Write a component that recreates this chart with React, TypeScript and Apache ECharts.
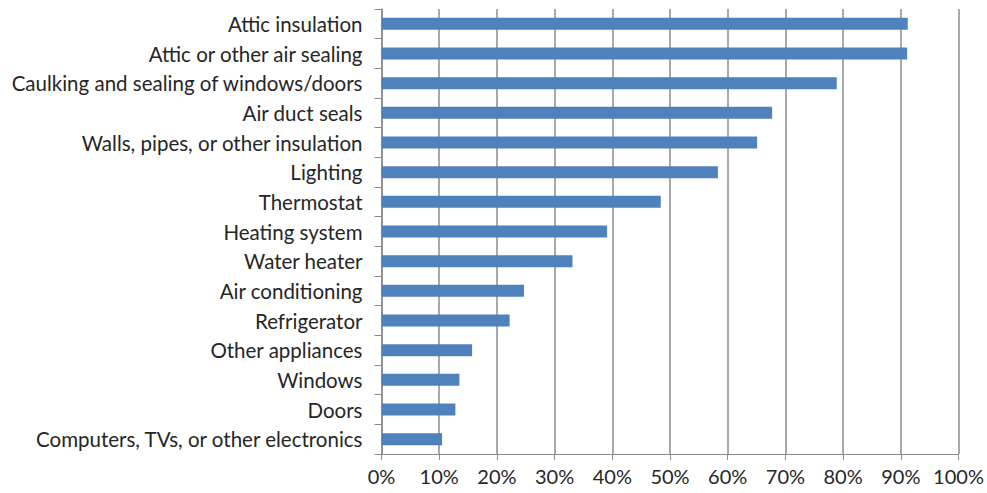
import React, { useEffect, useRef } from "react";
import * as echarts from "echarts";

const categories = [
  "Attic insulation",
  "Attic or other air sealing",
  "Caulking and sealing of windows/doors",
  "Air duct seals",
  "Walls, pipes, or other insulation",
  "Lighting",
  "Thermostat",
  "Heating system",
  "Water heater",
  "Air conditioning",
  "Refrigerator",
  "Other appliances",
  "Windows",
  "Doors",
  "Computers, TVs, or other electronics",
];

const values = [91.2, 91.1, 78.9, 67.7, 65.1, 58.3, 48.4, 39.1, 33.1, 24.7, 22.2, 15.7, 13.5, 12.8, 10.5];

const xTicks = { min: 0, max: 100, interval: 10 };

export default function App() {
  const ref = useRef<HTMLDivElement>(null);
  useEffect(() => {
    if (!ref.current) return;
    const chart = echarts.init(ref.current, null, { renderer: "svg" });
    const gray = "#8c8c8c";
    chart.setOption({
      animation: false,
      backgroundColor: "#ffffff",
      grid: { left: 381.5, right: 28.5, top: 9, bottom: 39, containLabel: false },
      xAxis: {
        type: "value",
        min: xTicks.min,
        max: xTicks.max,
        interval: xTicks.interval,
        axisLine: { show: true, lineStyle: { color: gray, width: 1 } },
        axisTick: { show: true, length: 6, lineStyle: { color: gray } },
        splitLine: { show: true, lineStyle: { color: gray, width: 1.5 } },
        axisLabel: {
          formatter: "{value}%",
          color: "#262626",
          fontFamily: "Lato",
          fontSize: 20,
          margin: 12,
        },
      },
      yAxis: {
        type: "category",
        inverse: true,
        data: categories,
        axisLine: { show: true, lineStyle: { color: gray, width: 1.5 } },
        axisTick: { show: true, length: 7, lineStyle: { color: gray } },
        axisLabel: {
          color: "#262626",
          fontFamily: "Lato",
          fontSize: 20.5,
          margin: 19,
        },
      },
      series: [
        {
          type: "bar",
          data: values,
          barWidth: 12,
          itemStyle: { color: "#4f81bd" },
        },
      ],
    });
    return () => chart.dispose();
  }, []);
  return (
    <div
      ref={ref}
      style={{ position: "fixed", left: 0, top: 0, width: 987, height: 493 }}
    />
  );
}
